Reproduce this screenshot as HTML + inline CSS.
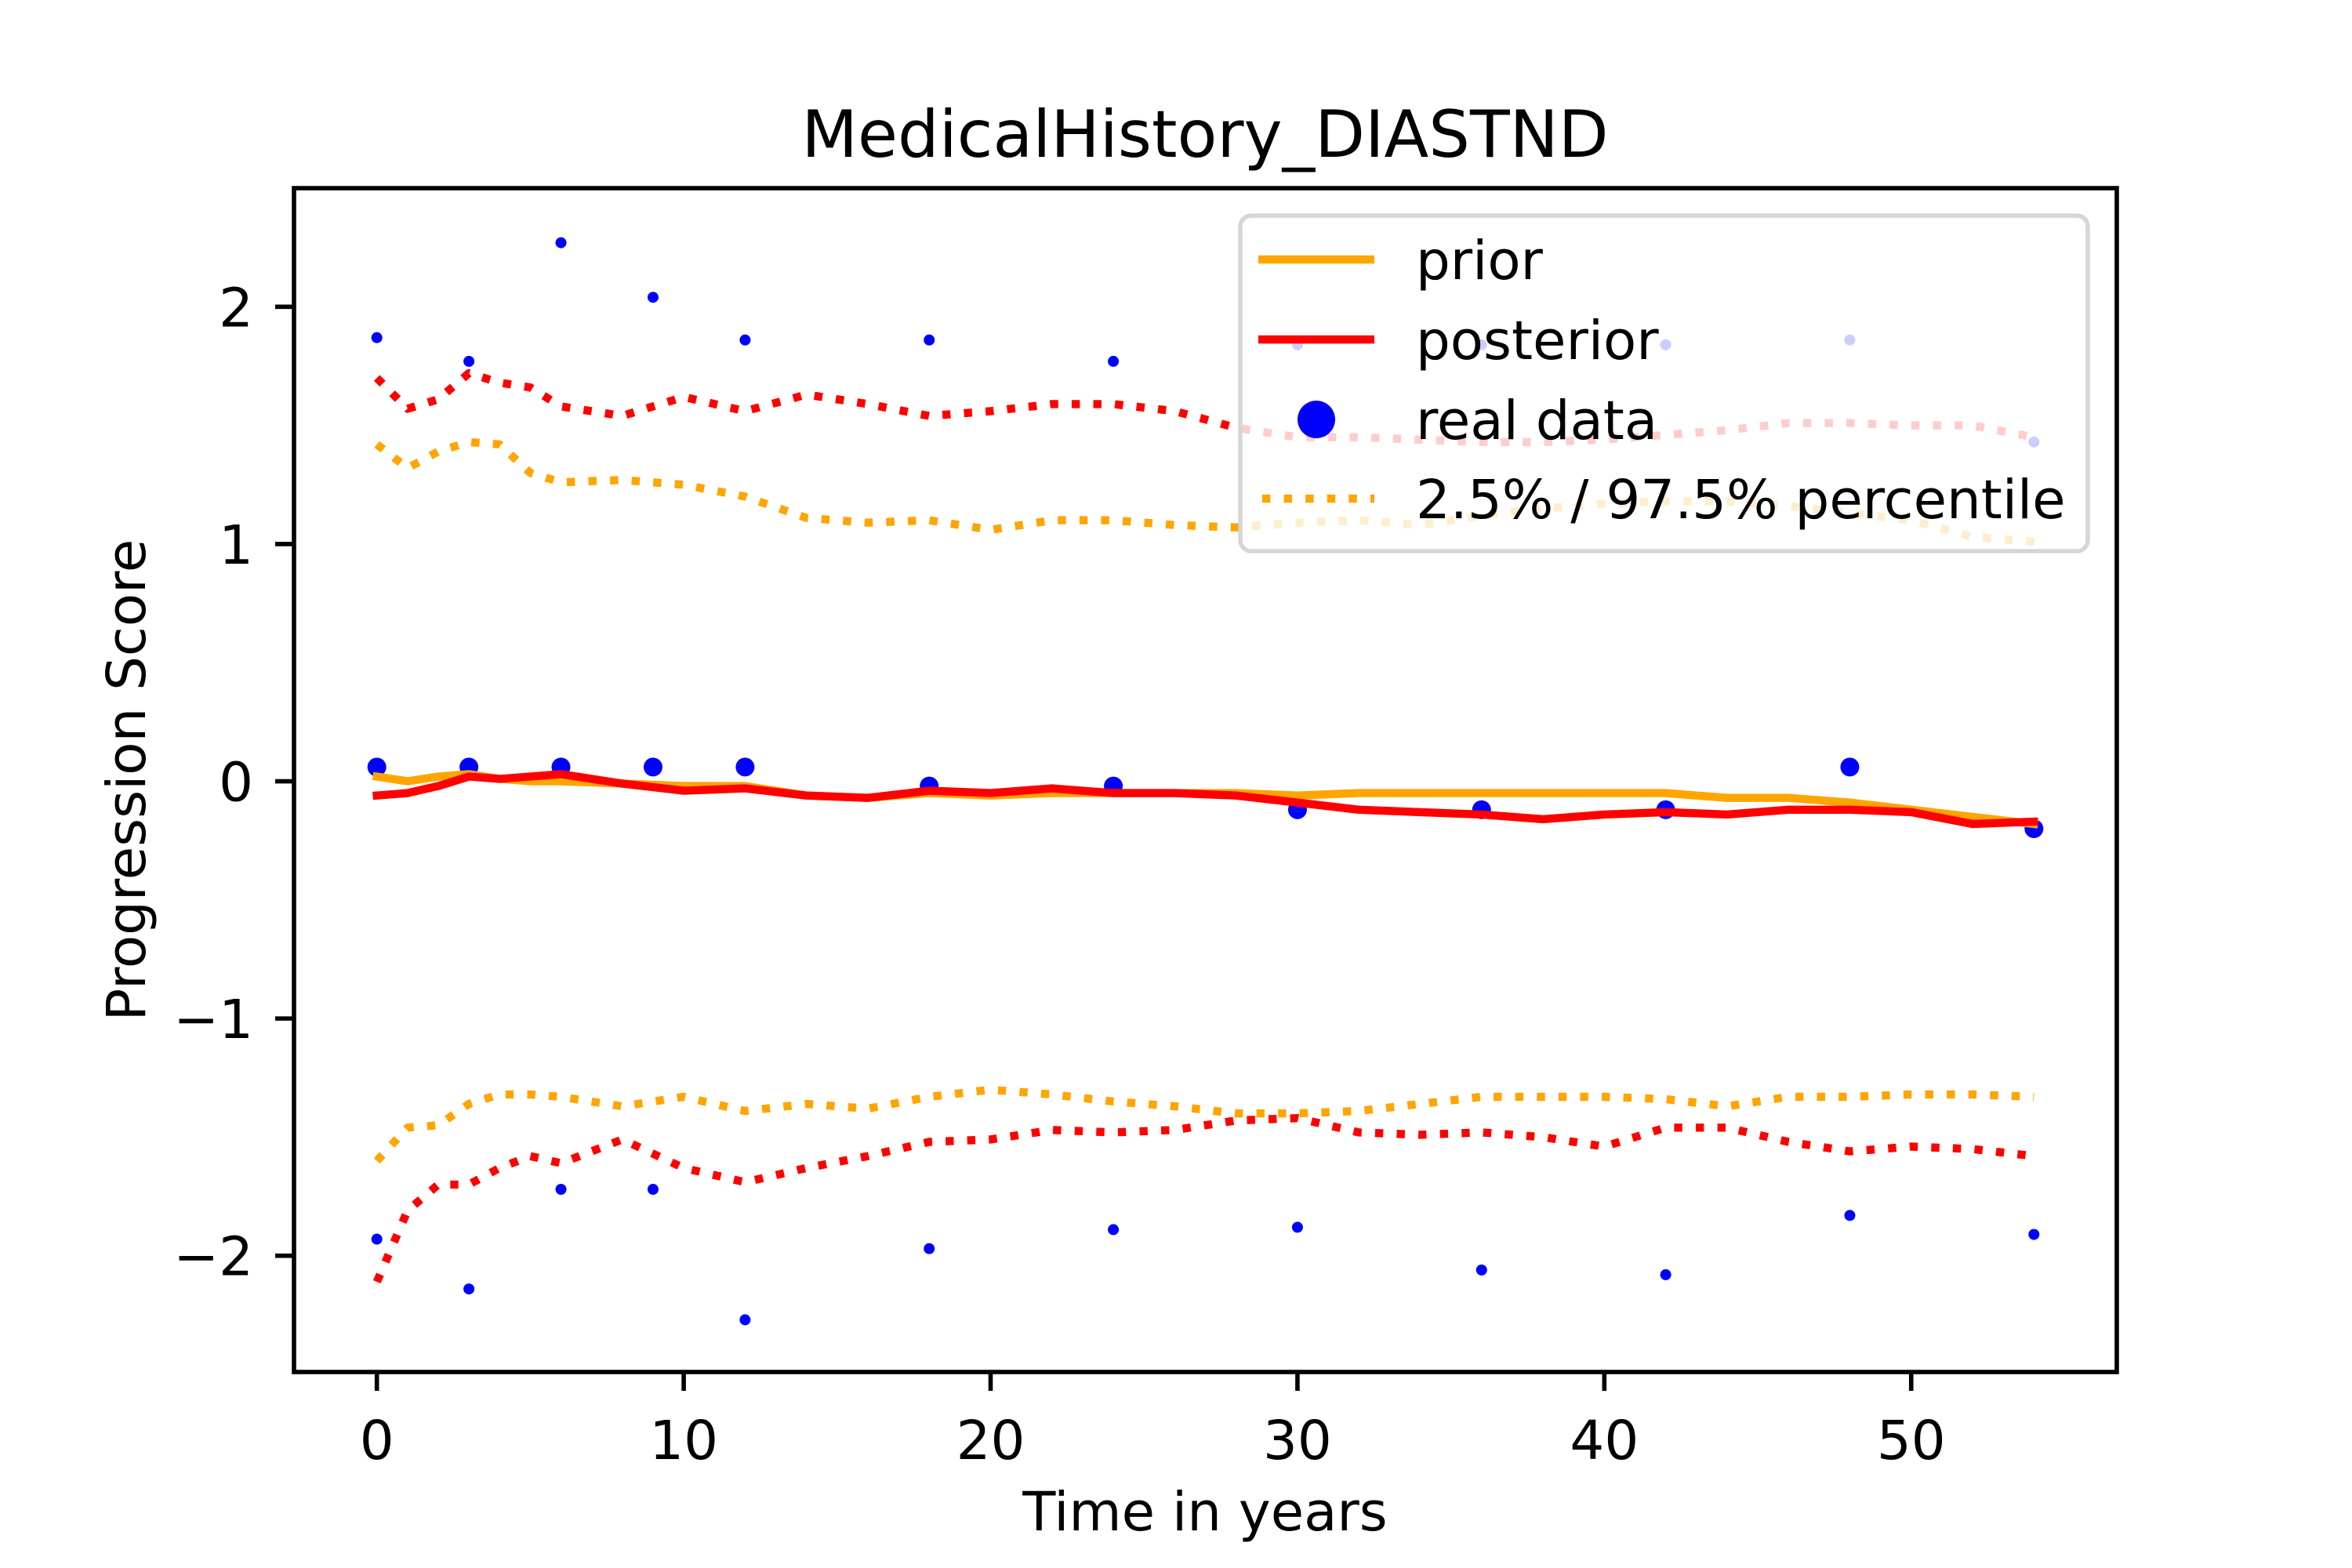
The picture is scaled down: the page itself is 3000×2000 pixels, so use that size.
<!DOCTYPE html>
<html><head><meta charset="utf-8"><style>
html,body{margin:0;padding:0;background:#fff;}
svg{display:block;font-family:"DejaVu Sans","Liberation Sans",sans-serif;}
</style></head><body>
<svg id="chart" width="3000" height="2000" viewBox="0 0 3000 2000" xmlns="http://www.w3.org/2000/svg">
<rect width="3000" height="2000" fill="#fff"/>
<text x="1537" y="200" font-size="83" text-anchor="middle">MedicalHistory_DIASTND</text>
<g id="plot"></g>
<g id="axes"></g>
<text x="1537" y="1952" font-size="69" text-anchor="middle">Time in years</text>
<text transform="translate(185,995) rotate(-90)" font-size="69" text-anchor="middle">Progression Score</text>
<g id="legend">
  <rect x="1582" y="275" width="1081" height="428" rx="14" fill="#fff" fill-opacity="0.8" stroke="#cccccc" stroke-opacity="0.8" stroke-width="5.5"/>
  <line x1="1605" y1="331" x2="1753" y2="331" stroke="#ffa500" stroke-width="10.4"/>
  <text x="1806" y="356" font-size="69">prior</text>
  <line x1="1605" y1="433" x2="1753" y2="433" stroke="#ff0000" stroke-width="10.4"/>
  <text x="1806" y="458" font-size="69">posterior</text>
  <ellipse cx="1679" cy="535" rx="24" ry="24" fill="#0000ff"/>
  <text x="1806" y="560" font-size="69">real data</text>
  <line x1="1610" y1="636" x2="1753" y2="636" stroke="#ffa500" stroke-width="10.4" stroke-dasharray="10.4 17.2"/>
  <text x="1806" y="661" font-size="69">2.5% / 97.5% percentile</text>
</g>
</svg>
<script>
const years = [0,1,2,3,4,5,6,8,10,12,14,16,18,20,22,24,26,28,30,32,34,36,38,40,42,44,46,48,50,52,54];
const priorMean = [0.02,0.0,0.02,0.03,0.01,0.0,0.0,-0.01,-0.02,-0.02,-0.06,-0.07,-0.05,-0.06,-0.05,-0.05,-0.05,-0.05,-0.06,-0.05,-0.05,-0.05,-0.05,-0.05,-0.05,-0.07,-0.07,-0.09,-0.12,-0.15,-0.18];
const posteriorMean = [-0.06,-0.05,-0.02,0.02,0.01,0.02,0.03,-0.01,-0.04,-0.03,-0.06,-0.07,-0.04,-0.05,-0.03,-0.05,-0.05,-0.06,-0.09,-0.12,-0.13,-0.14,-0.16,-0.14,-0.13,-0.14,-0.12,-0.12,-0.13,-0.18,-0.17];
const priorUpper = [1.42,1.32,1.39,1.43,1.42,1.30,1.26,1.27,1.25,1.20,1.11,1.09,1.10,1.06,1.10,1.10,1.08,1.07,1.09,1.10,1.08,1.12,1.15,1.17,1.18,1.18,1.16,1.13,1.10,1.03,1.01];
const priorLower = [-1.60,-1.46,-1.45,-1.36,-1.32,-1.32,-1.33,-1.37,-1.33,-1.39,-1.36,-1.38,-1.33,-1.30,-1.32,-1.35,-1.37,-1.40,-1.40,-1.39,-1.36,-1.33,-1.33,-1.33,-1.34,-1.37,-1.33,-1.33,-1.32,-1.32,-1.33];
const posteriorUpper = [1.70,1.57,1.61,1.72,1.68,1.66,1.58,1.54,1.62,1.56,1.63,1.59,1.54,1.56,1.59,1.59,1.56,1.49,1.45,1.45,1.44,1.43,1.43,1.44,1.46,1.48,1.51,1.51,1.50,1.50,1.45];
const posteriorLower = [-2.11,-1.81,-1.70,-1.70,-1.63,-1.58,-1.61,-1.51,-1.63,-1.69,-1.63,-1.58,-1.52,-1.51,-1.47,-1.48,-1.47,-1.43,-1.42,-1.48,-1.49,-1.48,-1.50,-1.54,-1.46,-1.46,-1.52,-1.56,-1.54,-1.55,-1.58];
const dataYears = [0,3,6,9,12,18,24,30,36,42,48,54];
const dataMean = [0.06,0.06,0.06,0.06,0.06,-0.02,-0.02,-0.12,-0.12,-0.12,0.06,-0.20];
const dataUpper = [1.87,1.77,2.27,2.04,1.86,1.86,1.77,1.84,1.84,1.84,1.86,1.43];
const dataLower = [-1.93,-2.14,-1.72,-1.72,-2.27,-1.97,-1.89,-1.88,-2.06,-2.08,-1.83,-1.91];
const xTicks = [0,10,20,30,40,50];
const yTicks = [-2,-1,0,1,2];
const xTickLabels = ["0","10","20","30","40","50"];
const yTickLabels = ["\u22122","\u22121","0","1","2"];

const L=375,R=2700,T=240,B=1750, XMIN=-2.7,XMAX=56.7,YMIN=-2.49,YMAX=2.50;
function sx(v){return L+(v-XMIN)/(XMAX-XMIN)*(R-L);}
function sy(v){return B-(v-YMIN)/(YMAX-YMIN)*(B-T);}
const NS="http://www.w3.org/2000/svg";
const plot=document.getElementById('plot'), axes=document.getElementById('axes');
function mk(tag,attrs,parent){const e=document.createElementNS(NS,tag);for(const k in attrs)e.setAttribute(k,attrs[k]);parent.appendChild(e);return e;}

const defs=mk('defs',{},plot);
const cp=mk('clipPath',{id:'clip'},defs);
mk('rect',{x:L,y:T,width:R-L,height:B-T},cp);
const g=mk('g',{'clip-path':'url(#clip)'},plot);

function dots(vals,r,name){
  vals.forEach((v,i)=>{
    const c=mk('ellipse',{cx:sx(dataYears[i]),cy:sy(v),rx:r,ry:r,fill:'#0000ff'},g);
    
    
  });
}
dots(dataUpper,7,'data-upper-point');
dots(dataLower,7,'data-lower-point');
dots(dataMean,12,'data-mean-point');

function line(vals,color,dotted,name){
  const pts=vals.map((v,i)=>sx(years[i]).toFixed(1)+','+sy(v).toFixed(1)).join(' ');
  const p=mk('polyline',{points:pts,fill:'none',stroke:color,'stroke-width':10.4,'stroke-linejoin':'round','stroke-linecap':dotted?'butt':'square'},g);
  if(dotted)p.setAttribute('stroke-dasharray','10.4 17.2');
  
  
}
line(priorMean,'#ffa500',false,'prior-mean-line');
line(posteriorMean,'#ff0000',false,'posterior-mean-line');
line(priorUpper,'#ffa500',true,'prior-upper-percentile');
line(priorLower,'#ffa500',true,'prior-lower-percentile');
line(posteriorUpper,'#ff0000',true,'posterior-upper-percentile');
line(posteriorLower,'#ff0000',true,'posterior-lower-percentile');

const sp=mk('rect',{x:L,y:T,width:R-L,height:B-T,fill:'none',stroke:'#000','stroke-width':5.6},axes);



xTicks.forEach((v,i)=>{
  const t=mk('line',{x1:sx(v),x2:sx(v),y1:B,y2:B+24,stroke:'#000','stroke-width':5.6},axes);
  
  
  const tx=mk('text',{x:sx(v),y:1861,'font-size':69,'text-anchor':'middle'},axes);
  tx.textContent=xTickLabels[i];
  
  
});
yTicks.forEach((v,i)=>{
  const t=mk('line',{x1:L-24,x2:L,y1:sy(v),y2:sy(v),stroke:'#000','stroke-width':5.6},axes);
  
  
  const tx=mk('text',{x:323,y:sy(v)+25,'font-size':69,'text-anchor':'end'},axes);
  tx.textContent=yTickLabels[i];
  
  
});
</script>
</body></html>
